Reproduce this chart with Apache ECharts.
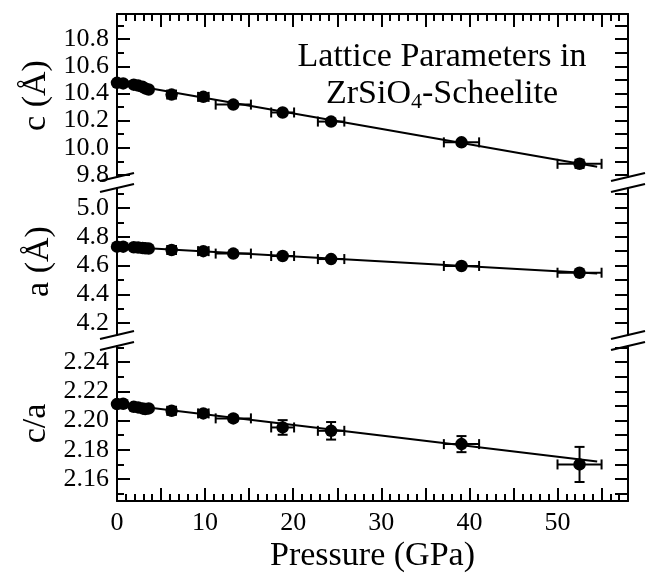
<!DOCTYPE html>
<html>
<head>
<meta charset="utf-8">
<script src="https://cdn.jsdelivr.net/npm/echarts@6/dist/echarts.min.js"></script>
<style>html,body{margin:0;padding:0;background:#fff}#chart{width:647px;height:576px}</style>
</head>
<body>
<div id="chart"></div>
<script>
// ---- data ----
const pressure    = [0.0, 0.7, 1.9, 2.4, 2.9, 3.2, 3.6, 6.2, 9.8, 13.2, 18.8, 24.3, 39.1, 52.5];
const pressureErr = [0.1, 0.1, 0.1, 0.1, 0.1, 0.1, 0.1, 0.5, 0.6, 2.0, 1.3, 1.5, 2.0, 2.5];
const cVals  = [10.478, 10.474, 10.465, 10.458, 10.449, 10.437, 10.429, 10.392, 10.375, 10.318, 10.260, 10.193, 10.040, 9.882];
const cErr   = [0.005, 0.005, 0.005, 0.005, 0.005, 0.005, 0.005, 0.02, 0.025, 0.01, 0.01, 0.01, 0.01, 0.03];
const aVals  = [4.731, 4.731, 4.727, 4.725, 4.722, 4.720, 4.718, 4.708, 4.700, 4.683, 4.666, 4.645, 4.597, 4.550];
const aErr   = [0.003, 0.003, 0.003, 0.003, 0.003, 0.003, 0.003, 0.01, 0.02, 0.005, 0.005, 0.005, 0.005, 0.005];
const ratioVals = [2.2113, 2.2115, 2.2094, 2.2090, 2.2083, 2.2079, 2.2083, 2.2067, 2.2049, 2.2015, 2.1953, 2.1930, 2.1839, 2.1700];
const ratioErr  = [0.001, 0.001, 0.001, 0.001, 0.001, 0.001, 0.001, 0.0015, 0.002, 0.002, 0.005, 0.006, 0.0055, 0.012];
// fitted lines (end points)
const fitP     = [0, 54.5];
const cFit     = [10.48, 9.86];
const aFit     = [4.733, 4.545];
const ratioFit = [2.2115, 2.172];
// ticks
const xMajorTicks = [0, 5, 10, 15, 20, 25, 30, 35, 40, 45, 50, 55];
const xLabels     = [0, 10, 20, 30, 40, 50];
const xMinorTicks = [0,1,2,3,4,5,6,7,8,9,10,11,12,13,14,15,16,17,18,19,20,21,22,23,24,25,26,27,28,29,30,31,32,33,34,35,36,37,38,39,40,41,42,43,44,45,46,47,48,49,50,51,52,53,54,55,56,57,58];
const cTicks      = [9.8, 10.0, 10.2, 10.4, 10.6, 10.8];
const cMinor      = [9.9, 10.1, 10.3, 10.5, 10.7, 10.9];
const aTicks      = [4.2, 4.4, 4.6, 4.8, 5.0];
const aMinor      = [4.3, 4.5, 4.7, 4.9, 5.1];
const ratioTicks  = [2.16, 2.18, 2.20, 2.22, 2.24];
const ratioMinor  = [2.15, 2.17, 2.19, 2.21, 2.23, 2.25];

// ---- layout / style ----
const FONT = "Liberation Serif";
const L = 117, R = 19, W = 647 - L - R;
const panels = [
  {top: 14,  height: 163, min: 9.785, max: 10.985},
  {top: 188, height: 147, min: 4.117, max: 5.139},
  {top: 346, height: 155, min: 2.145, max: 2.251}
];
const black = '#000';
const lineW = 2;

const chart = echarts.init(document.getElementById('chart'), null, {renderer: 'canvas'});

const grids = [];
panels.forEach(p => grids.push({left: L, right: R, top: p.top, height: p.height}));
panels.forEach(p => grids.push({left: L, right: R, top: p.top, height: p.height}));

function xAx(gridIndex, opts) {
  return Object.assign({
    type: 'value', gridIndex, min: 0, max: 58,
    splitLine: {show: false},
    axisLine: {show: true, onZero: false, lineStyle: {color: black, width: lineW}},
    axisTick: {show: false},
    axisLabel: {show: false},
    minorTick: {show: false}
  }, opts);
}
function yAx(gridIndex, p, opts) {
  return Object.assign({
    type: 'value', gridIndex, min: p.min, max: p.max,
    splitLine: {show: false},
    axisLine: {show: true, onZero: false, lineStyle: {color: black, width: lineW}},
    axisTick: {show: false},
    axisLabel: {show: false},
    minorTick: {show: false}
  }, opts);
}
const majorTick = (vals) => ({show: true, inside: true, length: 13, customValues: vals, lineStyle: {color: black, width: lineW}});
const minorTickS = (vals) => ({show: true, inside: true, length: 7, customValues: vals, lineStyle: {color: black, width: lineW}});
const yLabel = (vals, dec) => ({show: true, customValues: vals, margin: 8, fontFamily: FONT, fontSize: 26, color: black,
  formatter: v => Number(v).toFixed(dec)});
const yName = {nameLocation: 'middle', nameRotate: 90, nameGap: 61, nameTextStyle: {color: black, fontFamily: FONT, fontSize: 34}};

const xAxes = [
  xAx(0, {position: 'top', axisTick: majorTick(xMajorTicks)}),
  xAx(1, {show: false}),
  xAx(2, {position: 'bottom', axisTick: majorTick(xMajorTicks),
          axisLabel: {show: true, customValues: xLabels, margin: 9, fontFamily: FONT, fontSize: 26, color: black,
                      formatter: v => String(v)},
          name: 'Pressure (GPa)', nameLocation: 'middle', nameGap: 38,
          nameTextStyle: {color: black, fontFamily: FONT, fontSize: 34}}),
  xAx(3, {position: 'top', axisLine: {show: false}, axisTick: minorTickS(xMinorTicks)}),
  xAx(4, {show: false}),
  xAx(5, {position: 'bottom', axisLine: {show: false}, axisTick: minorTickS(xMinorTicks)})
];
const allC = cTicks.concat(cMinor), allA = aTicks.concat(aMinor), allR = ratioTicks.concat(ratioMinor);
const yAxes = [
  yAx(0, panels[0], Object.assign({position: 'left', name: 'c (Å)', axisTick: majorTick(cTicks), axisLabel: yLabel(cTicks, 1)}, yName)),
  yAx(0, panels[0], {position: 'right', axisTick: majorTick(allC)}),
  yAx(1, panels[1], Object.assign({position: 'left', name: 'a (Å)', axisTick: majorTick(aTicks), axisLabel: yLabel(aTicks, 1)}, yName)),
  yAx(1, panels[1], {position: 'right', axisTick: majorTick(allA)}),
  yAx(2, panels[2], Object.assign({position: 'left', name: 'c/a', axisTick: majorTick(ratioTicks), axisLabel: yLabel(ratioTicks, 2)}, yName)),
  yAx(2, panels[2], {position: 'right', axisTick: majorTick(allR)}),
  yAx(3, panels[0], {position: 'left', axisLine: {show: false}, axisTick: minorTickS(cMinor)}),
  yAx(4, panels[1], {position: 'left', axisLine: {show: false}, axisTick: minorTickS(aMinor)}),
  yAx(5, panels[2], {position: 'left', axisLine: {show: false}, axisTick: minorTickS(ratioMinor)})
];

function errRender(params, api) {
  const x = api.value(0), y = api.value(1), dx = api.value(2), dy = api.value(3);
  const h0 = api.coord([x - dx, y]), h1 = api.coord([x + dx, y]);
  const v0 = api.coord([x, y - dy]), v1 = api.coord([x, y + dy]);
  const cap = 5;
  const st = {stroke: black, lineWidth: lineW};
  const ln = (x1, y1, x2, y2) => ({type: 'line', shape: {x1, y1, x2, y2}, style: st});
  return {type: 'group', children: [
    ln(h0[0], h0[1], h1[0], h1[1]),
    ln(h0[0], h0[1] - cap, h0[0], h0[1] + cap),
    ln(h1[0], h1[1] - cap, h1[0], h1[1] + cap),
    ln(v0[0], v0[1], v1[0], v1[1]),
    ln(v0[0] - cap, v0[1], v0[0] + cap, v0[1]),
    ln(v1[0] - cap, v1[1], v1[0] + cap, v1[1])
  ]};
}

const series = [];
const sets = [
  {vals: cVals, err: cErr, fit: cFit},
  {vals: aVals, err: aErr, fit: aFit},
  {vals: ratioVals, err: ratioErr, fit: ratioFit}
];
sets.forEach((s, i) => {
  const xi = i, yi = i * 2;
  series.push({
    type: 'line', xAxisIndex: xi, yAxisIndex: yi, z: 2, silent: true,
    data: fitP.map((p, k) => [p, s.fit[k]]), showSymbol: false, symbol: 'none',
    lineStyle: {color: black, width: lineW}, animation: false
  });
  series.push({
    type: 'custom', xAxisIndex: xi, yAxisIndex: yi, z: 3, silent: true,
    renderItem: errRender, encode: {x: 0, y: 1},
    data: pressure.map((p, k) => [p, s.vals[k], pressureErr[k], s.err[k]]), animation: false
  });
  series.push({
    type: 'scatter', xAxisIndex: xi, yAxisIndex: yi, z: 4, silent: true,
    symbol: 'circle', symbolSize: 12.5, itemStyle: {color: black, opacity: 1},
    data: pressure.map((p, k) => [p, s.vals[k]]), animation: false
  });
});

// axis-break slashes (decoration)
const gaps = [[panels[0].top + panels[0].height, panels[1].top], [panels[1].top + panels[1].height, panels[2].top]];
const graphics = [];
gaps.forEach(g => {
  [L, L + W].forEach(ax => {
    g.forEach(yy => {
      graphics.push({type: 'line', z: 10, shape: {x1: ax - 17, y1: yy + 4, x2: ax + 17, y2: yy - 4}, style: {stroke: black, lineWidth: lineW}});
    });
  });
});
graphics.push({
  type: 'text', z: 10, x: 442, y: 39,
  style: {
    text: 'Lattice Parameters in\nZrSiO{sub|4}-Scheelite',
    fontFamily: FONT, fontSize: 34, lineHeight: 37, fill: black, align: 'center', verticalAlign: 'top',
    rich: {sub: {fontFamily: FONT, fontSize: 22, fill: black, padding: [16, 0, 0, 0]}}
  }
});

chart.setOption({
  backgroundColor: '#fff',
  animation: false,
  textStyle: {fontFamily: FONT, color: black},
  grid: grids,
  xAxis: xAxes,
  yAxis: yAxes,
  series,
  graphic: graphics
});
</script>
</body>
</html>
